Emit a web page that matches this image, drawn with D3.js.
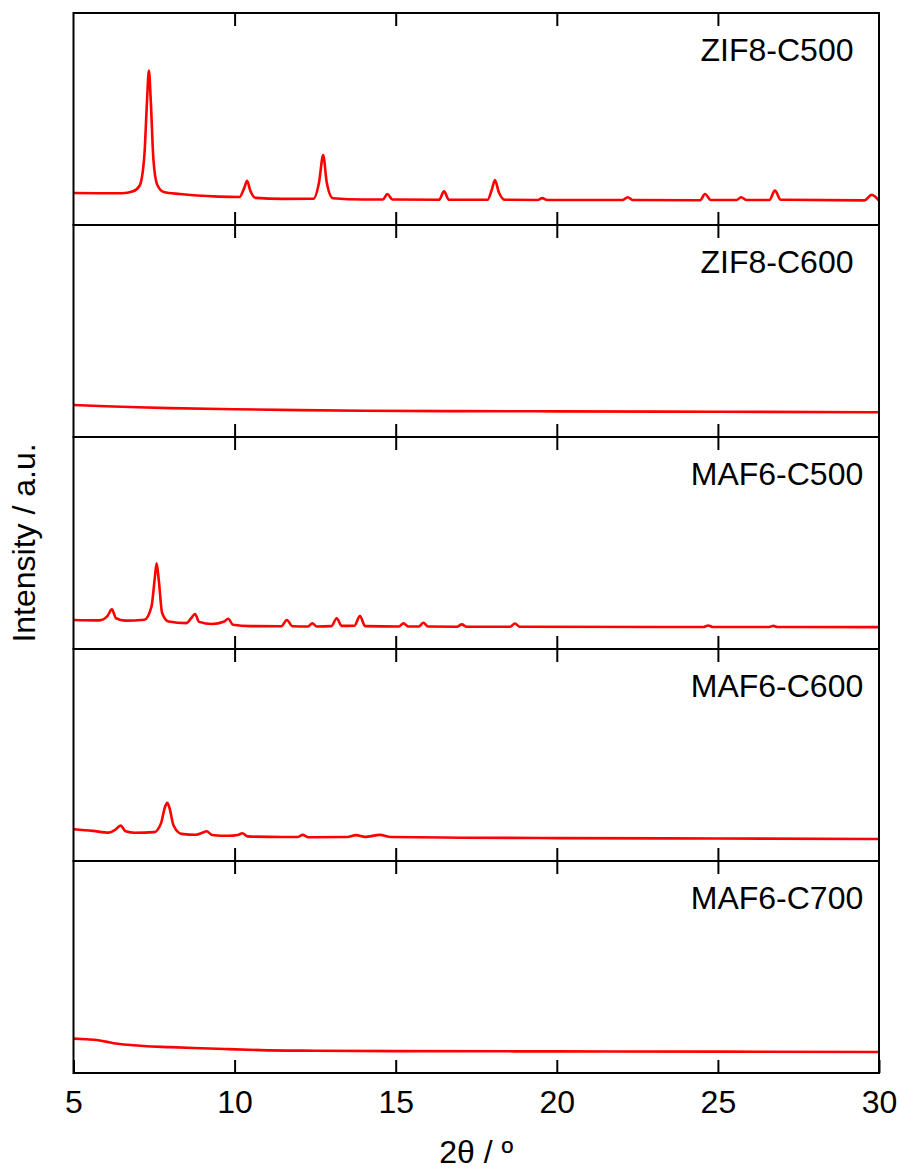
<!DOCTYPE html>
<html>
<head>
<meta charset="utf-8">
<script src="https://cdn.jsdelivr.net/npm/d3@7"></script>
<style>
  body { margin: 0; background: #fff; }
  svg text { font-family: Arial, "Liberation Sans", sans-serif; fill: #000; }
</style>
</head>
<body>
<svg id="chart" width="900" height="1173"></svg>
<script>
const muestras = ["ZIF8-C500", "ZIF8-C600", "MAF6-C500", "MAF6-C600", "MAF6-C700"];
const ticksX = [5, 10, 15, 20, 25, 30];

const zif8C500 = [
  [5, 15.1], [5.8, 15.0], [6.5, 15.0], [6.85, 15.9], [7.05, 18.5], [7.2, 33], [7.28, 58], [7.34, 72.8],
  [7.4, 58], [7.48, 31], [7.6, 19], [7.8, 15.6], [8.3, 14.6], [9.5, 13.4], [10.15, 13.2], [10.3, 17.5],
  [10.39, 20.8], [10.48, 16.5], [10.65, 12.8], [11.5, 12.3], [12.45, 12.4], [12.62, 20], [12.75, 33],
  [12.86, 20], [13.05, 12.6], [14.0, 12.0], [14.6, 12.0], [14.74, 14.6], [14.9, 12.0], [16.35, 11.9],
  [16.5, 15.9], [16.65, 11.9], [17.85, 11.9], [17.98, 16.5], [18.08, 21.2], [18.2, 15.5], [18.4, 11.9],
  [19.4, 11.8], [19.55, 12.7], [19.7, 11.8], [22.05, 11.8], [22.2, 13.1], [22.35, 11.8], [24.45, 11.7],
  [24.6, 14.6], [24.78, 11.8], [25.58, 11.8], [25.72, 13.1], [25.88, 11.8], [26.6, 11.8], [26.77, 16.2],
  [26.95, 11.9], [29.55, 11.6], [29.77, 14.2], [30, 11.5]
];

const zif8C600 = [
  [5, 15.1], [6, 14.5], [7, 14.0], [8, 13.6], [10, 13.1], [12, 12.7], [14, 12.4], [17, 12.2],
  [20, 12.1], [25, 11.9], [30, 11.7]
];

const maf6C500 = [
  [5, 13.7], [5.8, 13.5], [6.05, 15.5], [6.19, 18.7], [6.32, 14.5], [6.6, 13.4], [7.2, 13.8],
  [7.42, 20], [7.52, 33], [7.58, 40.4], [7.65, 32], [7.75, 17], [7.95, 13.0], [8.5, 12.2], [8.65, 14.5],
  [8.77, 16.5], [8.9, 12.8], [9.3, 11.8], [9.68, 13.0], [9.8, 14.3], [9.95, 11.4], [10.5, 10.8],
  [11.45, 10.7], [11.62, 13.7], [11.8, 10.7], [12.28, 10.6], [12.41, 12.1], [12.55, 10.6], [13.0, 10.8],
  [13.17, 14.5], [13.32, 10.9], [13.72, 11.0], [13.89, 15.6], [14.05, 10.8], [15.1, 10.6], [15.24, 12.1],
  [15.4, 10.6], [15.72, 10.6], [15.86, 12.4], [16.0, 10.6], [16.9, 10.5], [17.05, 11.6], [17.2, 10.5],
  [18.55, 10.5], [18.7, 12.0], [18.85, 10.5], [24.55, 10.4], [24.7, 11.1], [24.85, 10.4], [26.6, 10.4],
  [26.72, 10.9], [26.85, 10.4], [30, 10.3]
];

const maf6C600 = [
  [5, 15.0], [5.6, 14.2], [6.1, 13.4], [6.3, 14.8], [6.46, 16.7], [6.62, 14.0], [6.9, 13.3], [7.5, 13.6],
  [7.72, 18], [7.84, 25.5], [7.91, 27.5], [7.98, 25], [8.1, 17], [8.35, 12.8], [8.8, 12.4], [9.0, 13.3],
  [9.13, 14.0], [9.3, 12.3], [9.8, 11.9], [10.1, 12.3], [10.24, 13.1], [10.4, 11.6], [11.5, 11.3],
  [11.95, 11.3], [12.11, 12.3], [12.3, 11.2], [13.5, 11.3], [13.77, 12.2], [14.05, 11.4], [14.51, 12.3],
  [14.85, 11.3], [17, 11.0], [20, 10.8], [25, 10.6], [30, 10.4]
];

const maf6C700 = [
  [5, 16.2], [5.4, 15.9], [5.72, 15.6], [6.0, 14.8], [6.24, 14.0], [6.7, 13.3], [7.17, 12.7],
  [8.0, 12.2], [8.72, 11.8], [9.7, 11.3], [10.79, 10.8], [12.5, 10.5], [15, 10.3], [20, 10.2],
  [25, 10.1], [30, 9.9]
];

const series = [zif8C500, zif8C600, maf6C500, maf6C600, maf6C700];

const svg = d3.select("#chart");
const margin = { left: 73.5, right: 879, top: 13, bottom: 1073 };
const panelH = (margin.bottom - margin.top) / muestras.length;

const x = d3.scaleLinear().domain([5, 30]).range([margin.left, margin.right]);
const y = d3.scaleLinear().domain([0, 100]).range([panelH, 0]);

const linea = d3.line()
  .x(d => x(d[0]))
  .y(d => y(d[1]))
  .curve(d3.curveMonotoneX);

muestras.forEach((nombre, i) => {
  const g = svg.append("g").attr("transform", `translate(0,${margin.top + i * panelH})`);

  // ticks interiores arriba y abajo
  const abajo = g.append("g")
    .attr("transform", `translate(0,${panelH})`)
    .call(d3.axisBottom(x)
      .tickValues(i === muestras.length - 1 ? ticksX : ticksX.slice(1, -1))
      .tickSizeInner(-13).tickSizeOuter(0).tickPadding(17)
      .tickFormat(i === muestras.length - 1 ? d3.format("d") : ""));
  abajo.select(".domain").remove();
  abajo.selectAll(".tick line").attr("stroke", "#000").attr("stroke-width", 2);
  abajo.selectAll(".tick text").style("font-size", "32px").attr("fill", "#000");

  const arriba = g.append("g")
    .call(d3.axisTop(x).tickValues(ticksX.slice(1, -1)).tickSizeInner(-13).tickSizeOuter(0).tickFormat(""));
  arriba.select(".domain").remove();
  arriba.selectAll(".tick line").attr("stroke", "#000").attr("stroke-width", 2);

  g.append("path")
    .datum(series[i])
    .attr("d", linea)
    .attr("fill", "none")
    .attr("stroke", "#ff0000")
    .attr("stroke-width", 2.6)
    .attr("stroke-linejoin", "round");

  g.append("rect")
    .attr("x", margin.left).attr("y", 0)
    .attr("width", margin.right - margin.left).attr("height", panelH)
    .attr("fill", "none").attr("stroke", "#000").attr("stroke-width", 2);

  g.append("text")
    .attr("x", 777).attr("y", 48)
    .attr("text-anchor", "middle")
    .style("font-size", "32px")
    .text(nombre);
});

// títulos de ejes
svg.append("text")
  .attr("x", (margin.left + margin.right) / 2).attr("y", 1163)
  .attr("text-anchor", "middle")
  .style("font-size", "32px")
  .text("2θ / º");

svg.append("text")
  .attr("transform", `translate(35,${(margin.top + margin.bottom) / 2}) rotate(-90)`)
  .attr("text-anchor", "middle")
  .style("font-size", "32px")
  .text("Intensity / a.u.");
</script>
</body>
</html>
